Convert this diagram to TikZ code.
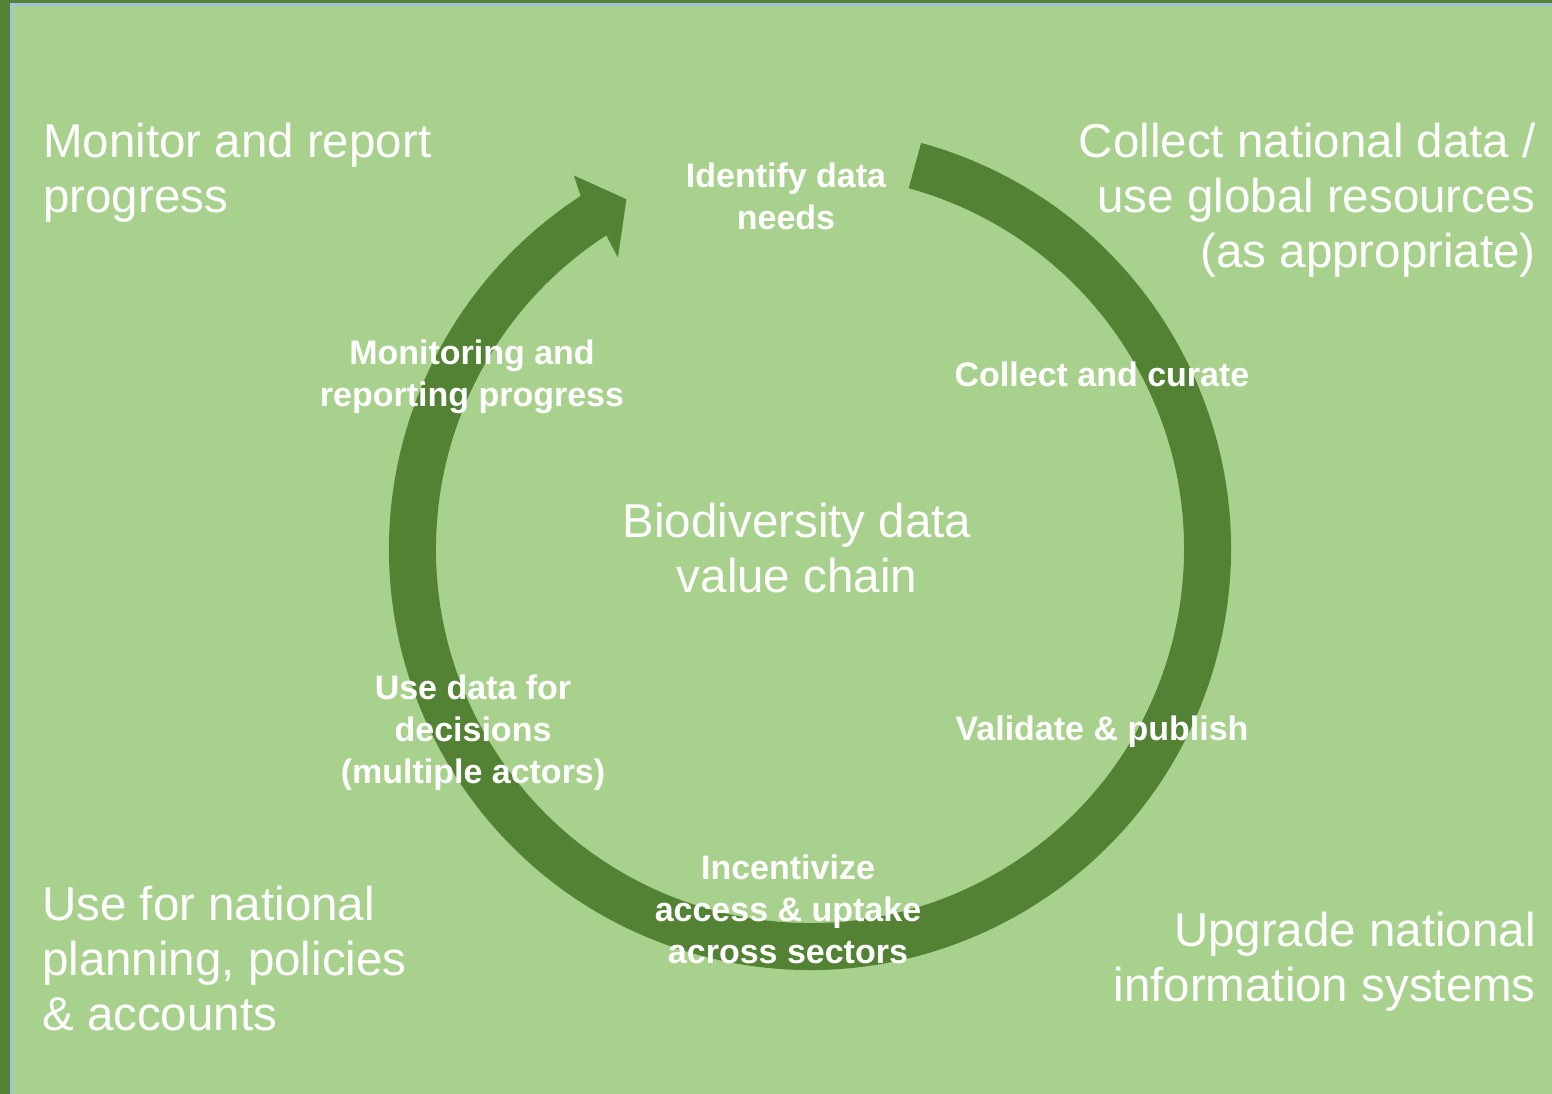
\documentclass[tikz,border=0pt]{standalone}
\usepackage{fontspec}
\setmainfont{Liberation Sans}
\usetikzlibrary{calc}
\definecolor{bggreen}{HTML}{A9D18E}
\definecolor{ringgreen}{HTML}{548235}
\definecolor{edgeblue}{HTML}{A2C4D8}
\tikzset{
  bigtext/.style={text=white, inner sep=0pt, font=\fontsize{47.5}{55}\selectfont},
  steplabel/.style={text=white, inner sep=0pt, align=center, font=\fontsize{34}{42}\selectfont\bfseries},
}
\begin{document}
\begin{tikzpicture}[x=1pt,y=1pt]
\useasboundingbox (0,0) rectangle (1552,-1094);
% background and frame strips
\fill[bggreen] (0,0) rectangle (1552,-1094);
\fill[ringgreen] (0,0) rectangle (10,-1094);
\fill[ringgreen] (0,0) rectangle (1552,-3);
\fill[edgeblue] (10,-3) rectangle (1552,-6);
\fill[edgeblue] (10,-3) rectangle (13,-1094);
% ring arrow
\coordinate (C) at (810,-549);
\fill[ringgreen] ($(C)+(74.7:421pt)$) arc[start angle=74.7, end angle=-237, radius=421pt]
  -- ($(C)+(122.3:442pt)$) -- ($(C)+(117.7:395pt)$) -- ($(C)+(123.4:349pt)$)
  -- ($(C)+(123:374pt)$) arc[start angle=-237, end angle=74.7, radius=374pt] -- cycle;
% corner texts
\node[bigtext, align=left, anchor=west] (tl) at (43,-174) {\strut Monitor and report\\\strut progress};
\node[bigtext, align=right, anchor=east] (tr) at (1536,-201) {\strut Collect national data /\\\strut use global resources\\\strut (as appropriate)};
\node[bigtext, align=left, anchor=west] (bl) at (42,-964) {\strut Use for national\\\strut planning, policies\\\strut \& accounts};
\node[bigtext, align=right, anchor=east] (br) at (1536,-963) {\strut Upgrade national\\\strut information systems};
% centre
\node[bigtext, align=center] (mid) at (797,-554) {\strut Biodiversity data\\\strut value chain};
% step labels
\node[steplabel] (s1) at (786,-200) {\strut Identify data\\\strut needs};
\node[steplabel] (s2) at (1102,-378) {\strut Collect and curate};
\node[steplabel] (s3) at (1102,-732) {\strut Validate \& publish};
\node[steplabel] (s4) at (788,-913) {\strut Incentivize\\\strut access \& uptake\\\strut across sectors};
\node[steplabel] (s5) at (473,-733) {\strut Use data for\\\strut decisions\\\strut (multiple actors)};
\node[steplabel] (s6) at (472,-377) {\strut Monitoring and\\\strut reporting progress};
\end{tikzpicture}
\end{document}
